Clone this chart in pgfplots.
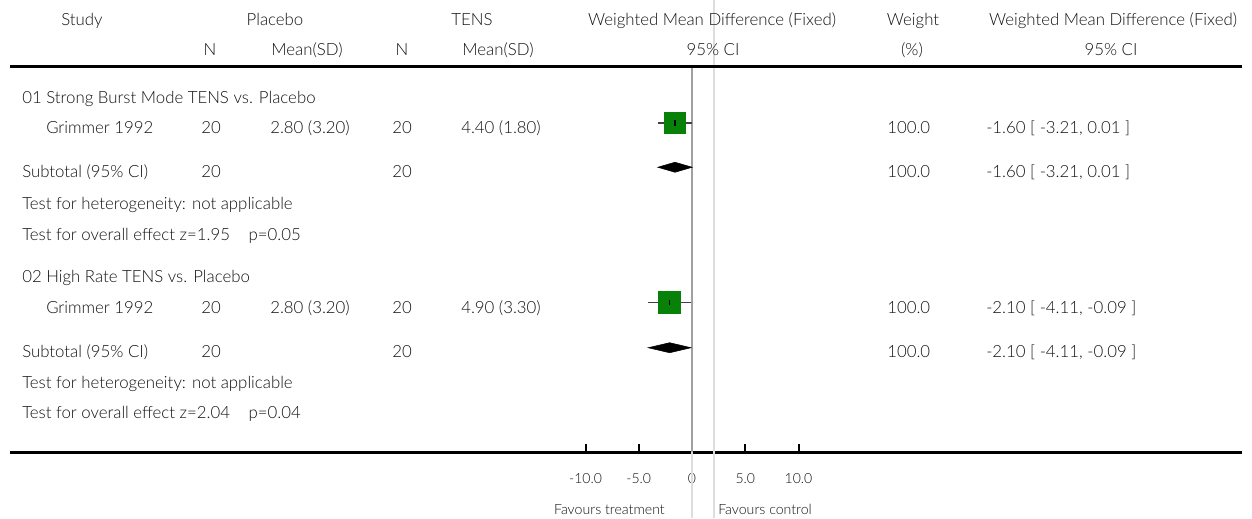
\documentclass[border=0pt]{standalone}
\usepackage{pgfplots}
\pgfplotsset{compat=1.18}
\usepackage{fontspec}
\setmainfont{Lato Light}
\definecolor{txt}{HTML}{111111}
\definecolor{boxgreen}{HTML}{078107}
\definecolor{refline}{HTML}{A0A0A0}
\definecolor{paleline}{HTML}{DDDDDD}

\begin{document}
\fontsize{12.6}{15}\selectfont
\begin{tikzpicture}[
  lbl/.style={anchor=west, inner sep=0pt, text height=0.75em, text depth=0.2em, text=txt, yshift=-1pt},
  clbl/.style={anchor=center, inner sep=0pt, text height=0.75em, text depth=0.2em, text=txt, yshift=-1pt},
  rlbl/.style={anchor=east, inner sep=0pt, text height=0.75em, text depth=0.2em, text=txt, yshift=-1pt}]
\useasboundingbox (0,0) rectangle (939pt,-388.5pt);

% effect scale: 10.65 px per unit, zero at 692 px
\begin{axis}[
  at={(7.5pt,-339pt)}, anchor=south west,
  scale only axis, width=924pt, height=289.5pt,
  xmin=-64.038, xmax=51.643, ymin=-452, ymax=-66,
  axis x line=bottom, axis y line=none,
  axis line style={line width=2.25pt, -, black},
  xtick={-10,-5,0,5,10}, xticklabels={-10.0,-5.0,0,5.0,10.0},
  tick align=inside, major tick length=6pt,
  tick style={line width=1.5pt, black},
  xticklabel style={anchor=center, yshift=-20pt, inner sep=0pt, text height=0.75em, text depth=0.2em, text=txt, font=\fontsize{10.5}{12}\selectfont},
  /pgf/number format/assume math mode=true,
  clip=false]

% reference lines
\draw[paleline, line width=1pt] (axis cs:2.07,0) -- (axis cs:2.07,-518);
\draw[paleline, line width=1pt] (axis cs:0,-452) -- (axis cs:0,-518);
\draw[refline, line width=1.2pt] (axis cs:0,-66) -- (axis cs:0,-452);

% study estimates
\addplot[boxgreen, only marks, mark=square*, mark size=8pt, mark options={fill=boxgreen, draw=boxgreen, line width=0pt}]
  coordinates {(-1.60,-124) (-2.10,-303)};
\addplot[black!75, line width=1.3pt] coordinates {(-3.21,-124) (0.01,-124)};
\addplot[black!75, line width=1.3pt] coordinates {(-4.11,-303) (-0.09,-303)};
\addplot[black, only marks, mark=|, mark size=2pt, mark options={black, line width=1pt}]
  coordinates {(-1.60,-124) (-2.10,-303)};

% pooled estimates
\addplot[fill=black, draw=black] coordinates {(-3.21,-168) (-1.60,-163) (0.01,-168) (-1.60,-173)} -- cycle;
\addplot[fill=black, draw=black] coordinates {(-4.11,-348) (-2.10,-343) (-0.09,-348) (-2.10,-353)} -- cycle;
\end{axis}

\begin{scope}[x=0.75pt, y=-0.75pt]
% top rule
\draw[black, line width=2.25pt] (10,66) -- (1242,66);
% header
\node[clbl] at (82,20) {Study};
\node[clbl] at (275,20) {Placebo};
\node[clbl] at (472,20) {TENS};
\node[clbl] at (712,20) {Weighted Mean Difference (Fixed)};
\node[clbl] at (913,20) {Weight};
\node[clbl] at (1113,20) {Weighted Mean Difference (Fixed)};
\node[clbl] at (210,50) {N};
\node[clbl] at (307,50) {Mean(SD)};
\node[clbl] at (402,50) {N};
\node[clbl] at (498,50) {Mean(SD)};
\node[clbl] at (713,50) {95\% CI};
\node[clbl] at (912,50) {(\%)};
\node[clbl] at (1111,50) {95\% CI};

% group 1
\node[lbl] at (22,98) {01 Strong Burst Mode TENS vs. Placebo};
\node[lbl] at (46,128) {Grimmer 1992};
\node[clbl] at (211,128) {20};
\node[lbl] at (270,128) {2.80 (3.20)};
\node[clbl] at (402,128) {20};
\node[lbl] at (461,128) {4.40 (1.80)};
\node[lbl] at (887,128) {100.0};
\node[lbl] at (986,128) {-1.60 [ -3.21, 0.01 ]};
\node[lbl] at (22,172) {Subtotal (95\% CI)};
\node[clbl] at (211,172) {20};
\node[clbl] at (402,172) {20};
\node[lbl] at (887,172) {100.0};
\node[lbl] at (986,172) {-1.60 [ -3.21, 0.01 ]};
\node[lbl] at (22,204) {Test for heterogeneity: not applicable};
\node[lbl] at (22,235) {Test for overall effect z=1.95\hspace{1.1em}p=0.05};

% group 2
\node[lbl] at (22,277) {02 High Rate TENS vs. Placebo};
\node[lbl] at (46,308) {Grimmer 1992};
\node[clbl] at (211,308) {20};
\node[lbl] at (270,308) {2.80 (3.20)};
\node[clbl] at (402,308) {20};
\node[lbl] at (461,308) {4.90 (3.30)};
\node[lbl] at (887,308) {100.0};
\node[lbl] at (986,308) {-2.10 [ -4.11, -0.09 ]};
\node[lbl] at (22,352) {Subtotal (95\% CI)};
\node[clbl] at (211,352) {20};
\node[clbl] at (402,352) {20};
\node[lbl] at (887,352) {100.0};
\node[lbl] at (986,352) {-2.10 [ -4.11, -0.09 ]};
\node[lbl] at (22,383) {Test for heterogeneity: not applicable};
\node[lbl] at (22,413) {Test for overall effect z=2.04\hspace{1.1em}p=0.04};

% direction labels
\node[rlbl, font=\fontsize{10.6}{12}\selectfont] at (665,509) {Favours treatment};
\node[lbl, font=\fontsize{10.6}{12}\selectfont] at (718,509) {Favours control};
\end{scope}
\end{tikzpicture}
\end{document}
